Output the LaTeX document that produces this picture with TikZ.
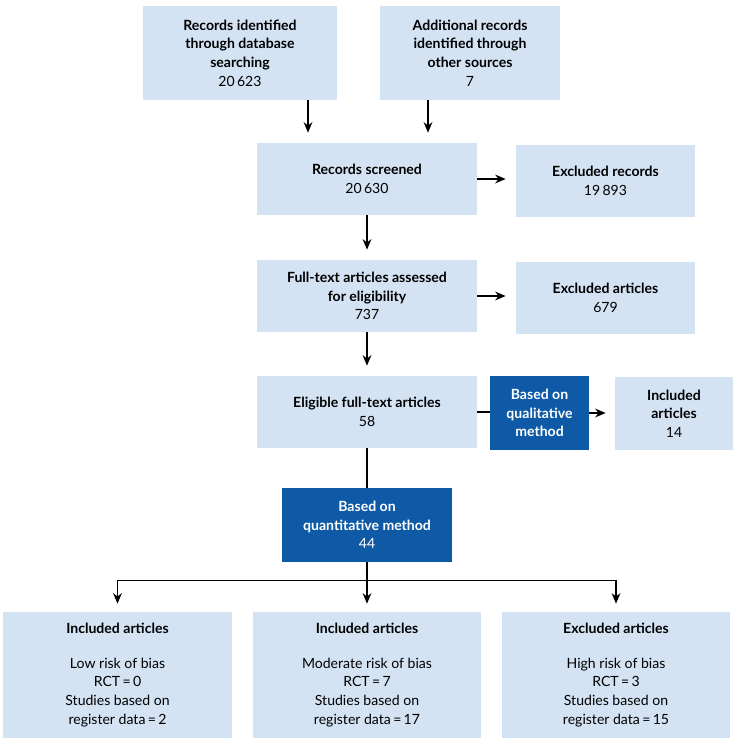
\documentclass[tikz,border=0pt]{standalone}
\usepackage{fontspec}
\setmainfont{Lato}
\usetikzlibrary{arrows.meta,calc}
\definecolor{lb}{HTML}{D4E3F4}
\definecolor{db}{HTML}{0E5AA7}
\begin{document}
\begin{tikzpicture}[x=0.02cm,y=-0.02cm,
  box/.style={fill=lb,draw=none,align=center,font=\fontsize{8}{10.6}\selectfont,inner sep=0pt},
  dbox/.style={fill=db,draw=none,align=center,text=white,font=\fontsize{8}{10.6}\selectfont,inner sep=0pt},
  arr/.style={draw=black,line width=0.6pt,-{Stealth[length=6pt,width=5pt]}},
  ln/.style={draw=black,line width=0.6pt}]
\useasboundingbox (0,0) rectangle (750,749);
\node[box,minimum width=3.88cm,minimum height=1.88cm] (a) at (240,53) {\textbf{Records identified}\\\textbf{through database}\\\textbf{searching}\\20\,623};
\node[box,minimum width=3.6cm,minimum height=1.88cm] (b) at (470,53) {\textbf{Additional records}\\\textbf{identified through}\\\textbf{other sources}\\7};
\node[box,minimum width=4.4cm,minimum height=1.44cm] (s) at (367,179) {\textbf{Records screened}\\20\,630};
\node[box,minimum width=3.58cm,minimum height=1.44cm] (er) at (605.5,181) {\textbf{Excluded records}\\19\,893};
\node[box,minimum width=4.4cm,minimum height=1.44cm] (f) at (367,296) {\textbf{Full-text articles assessed}\\\textbf{for eligibility}\\737};
\node[box,minimum width=3.58cm,minimum height=1.44cm] (ea) at (605.5,298) {\textbf{Excluded articles}\\679};
\node[box,minimum width=4.4cm,minimum height=1.44cm] (e) at (367,412) {\textbf{Eligible full-text articles}\\58};
\node[dbox,minimum width=1.98cm,minimum height=1.48cm] (ql) at (539.5,413) {\textbf{Based on}\\\textbf{qualitative}\\\textbf{method}};
\node[box,minimum width=2.36cm,minimum height=1.46cm] (i14) at (674,413.5) {\textbf{Included}\\\textbf{articles}\\14};
\node[dbox,minimum width=3.4cm,minimum height=1.48cm] (qn) at (367,525) {\textbf{Based on}\\\textbf{quantitative method}\\44};
\node[box,minimum width=4.58cm,minimum height=2.52cm] (b1) at (117.5,675) {\textbf{Included articles}\\[9pt]Low risk of bias\\RCT\,=\,0\\Studies based on\\register data\,=\,2};
\node[box,minimum width=4.58cm,minimum height=2.52cm] (b2) at (367,675) {\textbf{Included articles}\\[9pt]Moderate risk of bias\\RCT\,=\,7\\Studies based on\\register data\,=\,17};
\node[box,minimum width=4.58cm,minimum height=2.52cm] (b3) at (616,675) {\textbf{Excluded articles}\\[9pt]High risk of bias\\RCT\,=\,3\\Studies based on\\register data\,=\,15};
\draw[arr,shorten >=10*0.02cm] ([xshift=68*0.02cm]a.south) -- ([xshift=68*0.02cm]a.south |- s.north);
\draw[arr,shorten >=10*0.02cm] ([xshift=-42*0.02cm]b.south) -- ([xshift=-42*0.02cm]b.south |- s.north);
\draw[arr,shorten >=10*0.02cm] (s.south) -- (f.north);
\draw[arr,shorten >=10*0.02cm] (f.south) -- (e.north);
\draw[arr,shorten >=10*0.02cm] (s.east) -- (s.east -| er.west);
\draw[arr,shorten >=10*0.02cm] (f.east) -- (f.east -| ea.west);
\draw[ln] (e.east) -- (e.east -| ql.west);
\draw[arr,shorten >=9*0.02cm] (ql.east) -- (ql.east -| i14.west);
\draw[ln] (e.south) -- (qn.north);
\coordinate (j) at ($(qn.south)+(0,18)$);
\draw[arr,shorten >=8*0.02cm] (qn.south) -- (b2.north);
\draw[arr,shorten >=8*0.02cm] (j) -| (b1.north);
\draw[arr,shorten >=8*0.02cm] (j) -| (b3.north);
\end{tikzpicture}
\end{document}
